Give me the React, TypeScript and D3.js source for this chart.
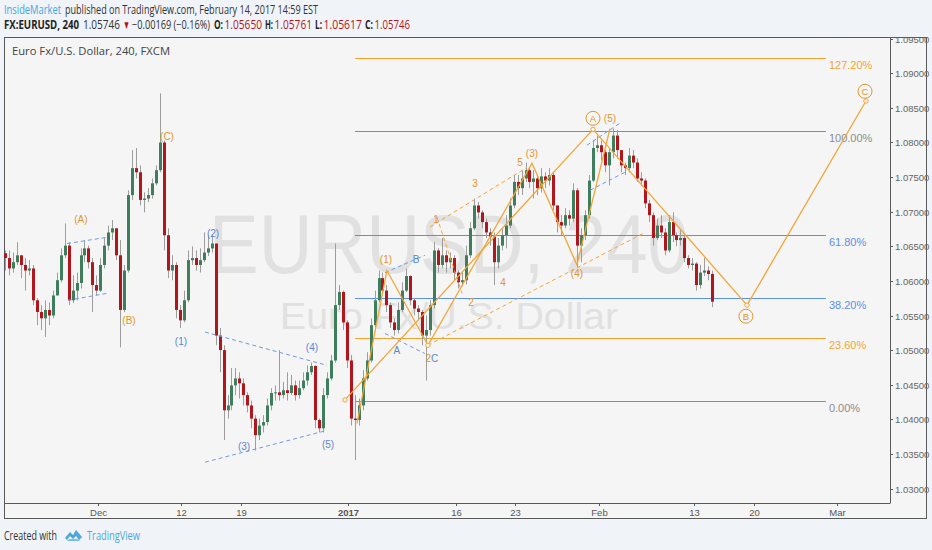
import React from 'react';
import * as d3 from 'd3';

// 8h candles: [high, low, close]; open = previous close
const firstOpen = 1.064;
const bars: [number, number, number][] = [
  [1.0644, 1.0615, 1.0633], [1.0644, 1.0608, 1.0618], [1.0641, 1.0612, 1.0627], [1.0656, 1.0623, 1.0637],
  [1.0637, 1.0604, 1.0623], [1.0633, 1.0586, 1.0615], [1.063, 1.0608, 1.0618], [1.0623, 1.0565, 1.0572],
  [1.0575, 1.0536, 1.0555], [1.0565, 1.0529, 1.0546], [1.0572, 1.0519, 1.0558], [1.0569, 1.0536, 1.055],
  [1.0586, 1.0546, 1.0579], [1.0612, 1.0586, 1.0601], [1.0647, 1.0598, 1.0637], [1.0683, 1.0633, 1.0651],
  [1.0656, 1.0565, 1.0572], [1.0608, 1.0568, 1.0586], [1.0612, 1.0572, 1.0597], [1.0647, 1.0589, 1.0637],
  [1.0659, 1.0627, 1.0647], [1.0651, 1.0618, 1.0627], [1.0633, 1.0555, 1.0594], [1.0608, 1.0579, 1.0586],
  [1.0633, 1.0584, 1.0623], [1.0662, 1.0618, 1.0651], [1.068, 1.0644, 1.067], [1.0688, 1.0659, 1.0676],
  [1.0676, 1.063, 1.0637], [1.0659, 1.0504, 1.0558], [1.0623, 1.0555, 1.0615], [1.0731, 1.0612, 1.0724],
  [1.0789, 1.0717, 1.0763], [1.0792, 1.0748, 1.0757], [1.0767, 1.0709, 1.0717], [1.0728, 1.0699, 1.0719],
  [1.0734, 1.0714, 1.0724], [1.0748, 1.0719, 1.0741], [1.0767, 1.0738, 1.076], [1.0871, 1.0757, 1.08],
  [1.0803, 1.0644, 1.0666], [1.0676, 1.0604, 1.0615], [1.0637, 1.0601, 1.0623], [1.0627, 1.0546, 1.0558],
  [1.0565, 1.0532, 1.0543], [1.0586, 1.054, 1.0572], [1.0644, 1.0569, 1.063], [1.065, 1.0623, 1.0633],
  [1.0644, 1.0615, 1.0623], [1.0647, 1.0612, 1.063], [1.067, 1.0627, 1.0641], [1.0666, 1.0636, 1.0647],
  [1.0666, 1.0641, 1.0654], [1.0654, 1.0507, 1.0521], [1.0532, 1.0468, 1.05], [1.0507, 1.037, 1.0413],
  [1.0435, 1.0401, 1.042], [1.0474, 1.0413, 1.0449], [1.0474, 1.0435, 1.0459], [1.0468, 1.043, 1.0452],
  [1.0459, 1.042, 1.0435], [1.0439, 1.041, 1.042], [1.0427, 1.0387, 1.0401], [1.0406, 1.0355, 1.0377],
  [1.0401, 1.037, 1.0391], [1.0406, 1.0381, 1.0396], [1.043, 1.0391, 1.042], [1.0445, 1.0413, 1.0438],
  [1.0449, 1.0427, 1.0439], [1.05, 1.0427, 1.0435], [1.0454, 1.043, 1.0442], [1.0468, 1.0427, 1.0438],
  [1.0464, 1.0435, 1.0449], [1.0456, 1.0427, 1.0435], [1.0456, 1.043, 1.0445], [1.0468, 1.0442, 1.0456],
  [1.0478, 1.0449, 1.0468], [1.0482, 1.0464, 1.0477], [1.0478, 1.0387, 1.0399], [1.0401, 1.0381, 1.0387],
  [1.0445, 1.0381, 1.0435], [1.0468, 1.043, 1.0459], [1.0493, 1.0456, 1.0485], [1.0654, 1.0482, 1.0565],
  [1.0594, 1.0558, 1.0584], [1.0586, 1.0529, 1.054], [1.0543, 1.0474, 1.0485], [1.0493, 1.0391, 1.0401],
  [1.0435, 1.0341, 1.0399], [1.043, 1.0391, 1.042], [1.0471, 1.0413, 1.0459], [1.0497, 1.0456, 1.0485],
  [1.0546, 1.0482, 1.0536], [1.0586, 1.0532, 1.0572], [1.0615, 1.0569, 1.0604], [1.0612, 1.0579, 1.0586],
  [1.0594, 1.0555, 1.0565], [1.0569, 1.0532, 1.054], [1.0546, 1.0521, 1.0529], [1.0569, 1.0524, 1.0558],
  [1.0598, 1.0555, 1.0586], [1.0618, 1.0584, 1.0607], [1.0608, 1.0565, 1.0572], [1.0575, 1.055, 1.056],
  [1.0565, 1.0543, 1.0555], [1.0558, 1.0507, 1.0521], [1.055, 1.0456, 1.0529], [1.0572, 1.0521, 1.0565],
  [1.0656, 1.056, 1.0644], [1.0647, 1.0612, 1.0623], [1.0662, 1.0618, 1.0637], [1.0644, 1.0612, 1.0627],
  [1.0641, 1.0618, 1.0633], [1.0637, 1.0601, 1.0612], [1.0615, 1.0589, 1.0598], [1.0612, 1.0592, 1.0601],
  [1.0651, 1.0595, 1.0637], [1.0685, 1.0633, 1.0676], [1.0719, 1.0673, 1.0709], [1.0714, 1.069, 1.0699],
  [1.0702, 1.0676, 1.0685], [1.069, 1.0662, 1.067], [1.0676, 1.0651, 1.0664], [1.067, 1.0594, 1.0627],
  [1.0662, 1.0618, 1.0651], [1.0676, 1.0644, 1.0666], [1.0695, 1.0647, 1.068], [1.0719, 1.0676, 1.0709],
  [1.0753, 1.0705, 1.0743], [1.0753, 1.0724, 1.0734], [1.076, 1.0724, 1.0748], [1.0771, 1.0743, 1.076],
  [1.0763, 1.0734, 1.0743], [1.076, 1.0719, 1.0748], [1.0753, 1.0724, 1.0734], [1.0763, 1.0728, 1.0751],
  [1.0757, 1.0734, 1.0745], [1.0763, 1.0738, 1.0753], [1.0757, 1.0702, 1.0709], [1.0709, 1.067, 1.0685],
  [1.0695, 1.0666, 1.068], [1.0705, 1.0676, 1.0695], [1.0702, 1.068, 1.069], [1.0741, 1.0685, 1.0731],
  [1.0734, 1.062, 1.0651], [1.0676, 1.0627, 1.0666], [1.0702, 1.0659, 1.0695], [1.0753, 1.069, 1.0745],
  [1.0803, 1.0743, 1.0792], [1.081, 1.0786, 1.0796], [1.0803, 1.0774, 1.0786], [1.0789, 1.0757, 1.0767],
  [1.0792, 1.0738, 1.0786], [1.082, 1.0777, 1.081], [1.0818, 1.0777, 1.0789], [1.0789, 1.0757, 1.0767],
  [1.0771, 1.0753, 1.0763], [1.0792, 1.0757, 1.0781], [1.0789, 1.0763, 1.0771], [1.0777, 1.0743, 1.0748],
  [1.0757, 1.0737, 1.0745], [1.0748, 1.0705, 1.0712], [1.0717, 1.0685, 1.0695], [1.0699, 1.0651, 1.0662],
  [1.069, 1.0659, 1.068], [1.0695, 1.0662, 1.067], [1.0676, 1.0637, 1.0644], [1.0695, 1.0641, 1.0685],
  [1.0699, 1.0656, 1.0666], [1.067, 1.065, 1.0659], [1.0673, 1.0651, 1.0662], [1.0666, 1.0627, 1.0633],
  [1.0637, 1.0618, 1.0623], [1.0633, 1.0615, 1.0625], [1.0627, 1.0586, 1.0594], [1.0623, 1.0589, 1.0612],
  [1.0633, 1.0607, 1.0615], [1.0621, 1.0601, 1.061], [1.0615, 1.0562, 1.057],
];
const firstBarDay = -7.8; // trading-day index of first candle (0 = Dec 1)
const barsPerDay = 3;

const dateTickDays = [0, 7, 12, 21, 30, 35, 42, 50, 55, 62];
const dateTickLabels = ['Dec', '12', '19', '2017', '16', '23', 'Feb', '13', '20', 'Mar'];
const priceTicks = [1.03, 1.035, 1.04, 1.045, 1.05, 1.055, 1.06, 1.065, 1.07, 1.075, 1.08, 1.085, 1.09, 1.095];

const fibLow = 1.0426;
const fibHigh = 1.0816;
const fibLevels = [0, 0.236, 0.382, 0.618, 1, 1.272];
const fibNames = ['0.00%', '23.60%', '38.20%', '61.80%', '100.00%', '127.20%'];
const fibColors = ['#8c8c8c', '#f5a32e', '#5c8fe6', '#5c8fe6', '#8c8c8c', '#f5a32e'];
const fibSpan = [21.56, 61.07];

// header pieces: [text, left x, right x, colour, bold]
const headerLine1: [string, number, number, string, boolean][] = [
  ['InsideMarket', 4, 61, '#3ea6df', false],
  ['published on TradingView.com, February 14, 2017 14:59 EST', 65, 318, '#333', false],
];
const headerLine2: [string, number, number, string, boolean][] = [
  ['FX:EURUSD, 240', 4, 79, '#222', true],
  ['1.05746', 83, 120, '#333', false],
  ['▼', 123, 130, '#b1161d', false],
  ['−0.00169 (−0.16%)', 132, 210, '#333', false],
  ['O:', 214, 223, '#222', true],
  ['1.05650', 224.5, 262, '#b1161d', false],
  ['H:', 265, 273, '#222', true],
  ['1.05761', 274.5, 312, '#b1161d', false],
  ['L:', 315, 322, '#222', true],
  ['1.05617', 323.5, 362, '#b1161d', false],
  ['C:', 365, 373, '#222', true],
  ['1.05746', 374.5, 410, '#b1161d', false],
];

type P = [number, number];
// orange wave paths, [day, price]
const impulsePath: P[] = [[21.73, 1.0394], [24.24, 1.0615], [27.68, 1.0507], [36.41, 1.077], [40.18, 1.0623], [42.95, 1.082]];
const abcPath: P[] = [[20.72, 1.0428], [41.53, 1.0819], [54.45, 1.0565], [64.43, 1.086]];
const orangeDashed: P[][] = [
  [[27.68, 1.0507], [45.89, 1.067]],
  [[27.85, 1.0678], [35.99, 1.0764]],
  [[28.44, 1.0692], [30.54, 1.0582]],
];
const blueDashed: P[][] = [
  [[-2.6, 1.0654], [0.76, 1.0663]],
  [[-2.52, 1.0572], [0.76, 1.0582]],
  [[8.98, 1.0526], [19.21, 1.0478]],
  [[8.98, 1.0338], [19.21, 1.0384]],
  [[24.08, 1.0612], [27.43, 1.0637]],
  [[24.08, 1.0524], [27.43, 1.0495]],
  [[41.02, 1.0796], [43.79, 1.0828]],
  [[41.28, 1.0731], [44.21, 1.0757]],
];
const orangeLabels: [string, number, number][] = [
  ['(A)', -1.43, 1.0689], ['(B)', 2.6, 1.0543], ['(C)', 5.79, 1.0808],
  ['(1)', 24.16, 1.0631], ['(3)', 36.41, 1.0784], ['(4)', 40.18, 1.0611], ['(5)', 42.95, 1.0834],
  ['1', 28.36, 1.0689], ['2', 31.29, 1.0569], ['3', 31.63, 1.0741], ['4', 33.98, 1.0597], ['5', 35.4, 1.0771],
  ['2', 27.72, 1.0488],
];
const blueLabels: [string, number, number][] = [
  ['(1)', 6.96, 1.0513], ['(2)', 9.65, 1.0669], ['(3)', 12.25, 1.036], ['(4)', 17.95, 1.0504], ['(5)', 19.3, 1.0364],
  ['A', 25.08, 1.05], ['B', 26.68, 1.0631], ['C', 28.25, 1.0488],
];
const circledLabels: [string, number, number][] = [['A', 41.53, 1.0835], ['B', 54.36, 1.0549], ['C', 64.35, 1.0874]];

const W = 932;
const H = 550;
const frame = { left: 4, top: 37, right: 927, bottom: 519 };
const plotRight = 890;
const plotBottom = 503;

const ORANGE = '#f3a537';
const ORANGE_TXT = '#e0962c';
const BLUE = '#6f9be0';
const BLUE_TXT = '#5a86d4';
const UP = '#3e7e5c';
const DOWN = '#b1161d';

const HeaderLine: React.FC<{ parts: [string, number, number, string, boolean][]; y: number }> = ({ parts, y }) => (
  <g>
    {parts.map(([t, x0, x1, col, bold], i) => (
      <text key={i} x={x0} y={y} fontSize={12} fontFamily="'Open Sans', sans-serif" fill={col}
        fontWeight={bold ? 'bold' : 'normal'} textLength={x1 - x0} lengthAdjust="spacingAndGlyphs">{t}</text>
    ))}
  </g>
);

const App: React.FC = () => {
  const x = d3.scaleLinear().domain([0, 62]).range([98, 837]);
  const y = d3.scaleLinear().domain([1.03, 1.09]).range([488.5, 73.3]);
  const line = d3.line<P>().x(d => x(d[0])).y(d => y(d[1]));

  const candles = bars.map((b, i) => {
    const open = i === 0 ? firstOpen : bars[i - 1][2];
    const [hi, lo, close] = b;
    return { day: firstBarDay + i / barsPerDay, open, close, hi: Math.max(hi, open, close), lo: Math.min(lo, open, close) };
  });
  const bodyW = 3;

  return (
    <svg width={W} height={H} style={{ display: 'block', position: 'absolute', left: 0, top: 0 }}
      fontFamily="'Liberation Sans', Arial, sans-serif">
      <defs>
        <clipPath id="plot">
          <rect x={frame.left} y={frame.top} width={plotRight - frame.left} height={plotBottom - frame.top} />
        </clipPath>
      </defs>
      <rect width={W} height={H} fill="#f0f3f8" />

      {/* header */}
      <HeaderLine parts={headerLine1} y={14} />
      <HeaderLine parts={headerLine2} y={29} />

      {/* frame */}
      <rect x={frame.left + 0.5} y={frame.top + 0.5} width={frame.right - frame.left - 1} height={frame.bottom - frame.top - 1}
        fill="#f5f5f5" stroke="#5a5a5a" />
      <line x1={plotRight + 0.5} x2={plotRight + 0.5} y1={frame.top} y2={plotBottom} stroke="#5a5a5a" />
      <line x1={frame.left} x2={plotRight + 0.5} y1={plotBottom + 0.5} y2={plotBottom + 0.5} stroke="#5a5a5a" />

      <g clipPath="url(#plot)">
        {/* watermark */}
        <text x={449} y={273} fontSize={84} fill="#e1e1e1" textAnchor="middle" textLength={480} lengthAdjust="spacingAndGlyphs">EURUSD, 240</text>
        <text x={449} y={329} fontSize={37} fill="#e1e1e1" textAnchor="middle" textLength={338} lengthAdjust="spacingAndGlyphs">Euro Fx/U.S. Dollar</text>

        {/* fibonacci levels */}
        {fibLevels.map((lv, i) => {
          const yy = Math.round(y(fibLow + lv * (fibHigh - fibLow))) + 0.5;
          return (
            <g key={i}>
              <line x1={x(fibSpan[0])} x2={x(fibSpan[1])} y1={yy} y2={yy} stroke={fibColors[i]} strokeWidth={1} />
              <text x={x(fibSpan[1]) + 3} y={yy + 10} fontSize={11} fill={fibColors[i]}>{fibNames[i]}</text>
            </g>
          );
        })}

        {/* candles */}
        {candles.map((c, i) => {
          const cx = Math.round(x(c.day));
          const col = c.close >= c.open ? UP : DOWN;
          const top = y(Math.max(c.open, c.close));
          const h = Math.max(1, y(Math.min(c.open, c.close)) - top);
          return (
            <g key={i}>
              <line x1={cx + 0.5} x2={cx + 0.5} y1={y(c.hi)} y2={y(c.lo)} stroke="#9d9d9d" strokeWidth={1} />
              <rect x={cx + 0.5 - bodyW / 2} y={top} width={bodyW} height={h} fill={col} />
            </g>
          );
        })}

        {/* wave lines */}
        {blueDashed.map((seg, i) => (
          <path key={'bd' + i} d={line(seg) ?? ''} fill="none" stroke={BLUE} strokeWidth={1} strokeDasharray="4 3" />
        ))}
        {orangeDashed.map((seg, i) => (
          <path key={'od' + i} d={line(seg) ?? ''} fill="none" stroke={ORANGE} strokeWidth={1} strokeDasharray="4 3" />
        ))}
        <path d={line(impulsePath) ?? ''} fill="none" stroke={ORANGE} strokeWidth={1.3} />
        <path d={line(abcPath) ?? ''} fill="none" stroke={ORANGE} strokeWidth={1.3} />
        {[abcPath[0], abcPath[1], abcPath[2], abcPath[3], impulsePath[2]].map((p, i) => (
          <circle key={'m' + i} cx={x(p[0])} cy={y(p[1])} r={2.2} fill="#f5f5f5" stroke={ORANGE} strokeWidth={1} />
        ))}

        {orangeLabels.map(([t, d, p], i) => (
          <text key={'ol' + i} x={x(d)} y={y(p)} dy="0.35em" fontSize={10} fill={ORANGE_TXT} textAnchor="middle">{t}</text>
        ))}
        {blueLabels.map(([t, d, p], i) => (
          <text key={'bl' + i} x={x(d)} y={y(p)} dy="0.35em" fontSize={10} fill={BLUE_TXT} textAnchor="middle">{t}</text>
        ))}
        {circledLabels.map(([t, d, p], i) => (
          <g key={'cl' + i}>
            <circle cx={x(d)} cy={y(p)} r={7} fill="none" stroke={ORANGE_TXT} strokeWidth={1} />
            <text x={x(d)} y={y(p)} dy="0.36em" fontSize={9.5} fill={ORANGE_TXT} textAnchor="middle">{t}</text>
          </g>
        ))}

        <text x={12} y={55} fontSize={11} fontFamily="'Open Sans', sans-serif" fill="#444" textLength={158} lengthAdjust="spacingAndGlyphs">
          Euro Fx/U.S. Dollar, 240, FXCM
        </text>
      </g>

      {/* price axis */}
      {priceTicks.map(p => {
        const yy = Math.round(y(p)) + 0.5;
        return (
          <g key={p}>
            <line x1={plotRight} x2={plotRight + 3} y1={yy} y2={yy} stroke="#5a5a5a" />
            <text x={plotRight + 5} y={yy} dy="0.35em" fontSize={9.5} fill="#666">{p.toFixed(5)}</text>
          </g>
        );
      })}
      <rect x={plotRight + 1} y={frame.top - 12} width={frame.right - plotRight - 1} height={12.5} fill="#f0f3f8" />
      <line x1={plotRight + 1} x2={frame.right} y1={frame.top + 0.5} y2={frame.top + 0.5} stroke="#5a5a5a" />

      {/* date axis */}
      {dateTickDays.map((d, i) => {
        const xx = Math.round(x(d)) + 0.5;
        return (
          <g key={i}>
            <line x1={xx} x2={xx} y1={plotBottom} y2={plotBottom + 3} stroke="#5a5a5a" />
            <text x={xx} y={plotBottom + 13} fontSize={9.5} fill="#555" textAnchor="middle"
              fontWeight={dateTickLabels[i] === '2017' ? 'bold' : 'normal'}>{dateTickLabels[i]}</text>
          </g>
        );
      })}

      {/* footer */}
      <text x={4} y={540} fontSize={12} fontFamily="'Open Sans', sans-serif" fill="#333" textLength={53} lengthAdjust="spacingAndGlyphs">Created with</text>
      <g transform="translate(65,529)" fill="#4aa8de">
        <path d="M0 9 L5 3 L8 6 L11 1 L17 8 L14 11 L11 7 L8 10 L5 7 L2 11 Z" />
        <path d="M2 12 L15 12 L13 10 L4 10 Z" opacity={0.7} />
      </g>
      <text x={87} y={540} fontSize={12} fontFamily="'Open Sans', sans-serif" fill="#4aa8de" textLength={53} lengthAdjust="spacingAndGlyphs">TradingView</text>
    </svg>
  );
};

export default App;
